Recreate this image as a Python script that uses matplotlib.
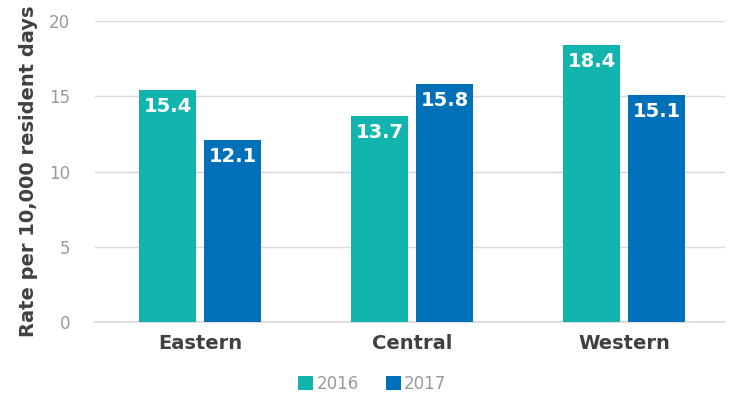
import numpy as np
import matplotlib.pyplot as plt

# Datos del gráfico
regiones = ["Eastern", "Central", "Western"]
valores_2016 = [15.4, 13.7, 18.4]
valores_2017 = [12.1, 15.8, 15.1]
anios = ["2016", "2017"]
colores = ["#12b5ae", "#0070b9"]

plt.rcParams['font.family'] = ['DejaVu Sans']

fig = plt.figure(figsize=(7.37, 3.98), dpi=100)
ax = fig.add_axes([0.129, 0.191, 0.855, 0.756])

x = np.arange(len(regiones))
ancho = 0.269
desp = 0.153

for serie, signo, color, anio in zip([valores_2016, valores_2017], [-1, 1], colores, anios):
    ax.bar(x + signo * desp, serie, width=ancho, color=color, label=anio, zorder=3)
    for xi, v in zip(x, serie):
        ax.text(xi + signo * desp, v - 0.45, f"{v:.1f}", ha='center', va='top',
                color='white', fontsize=14, fontweight='bold', zorder=4)

ax.set_xlim(-0.495, 2.476)
ax.set_ylim(0, 20)
ax.set_yticks([0, 5, 10, 15, 20])
ax.grid(axis='y', color='#d9d9d9', linewidth=1, zorder=0)
ax.axhline(0, color='#d9d9d9', linewidth=1.2, zorder=2, clip_on=False)
for s in ax.spines.values():
    s.set_visible(False)
ax.tick_params(axis='y', length=0, labelsize=12, labelcolor='#999999', pad=18)
ax.tick_params(axis='x', length=0, labelsize=14, pad=9)
ax.set_xticks(x)
ax.set_xticklabels(regiones, fontweight='bold', color='#404040')
ax.set_ylabel("Rate per 10,000 resident days", fontsize=14, fontweight='bold', color='#404040', labelpad=8)

ax.legend(loc='upper center', bbox_to_anchor=(0.44, -0.125), ncol=2, frameon=False,
          fontsize=12, labelcolor='#999999', handlelength=0.9, handleheight=0.9,
          handletextpad=0.2, columnspacing=1.6)

plt.savefig("out.png", dpi=100)
